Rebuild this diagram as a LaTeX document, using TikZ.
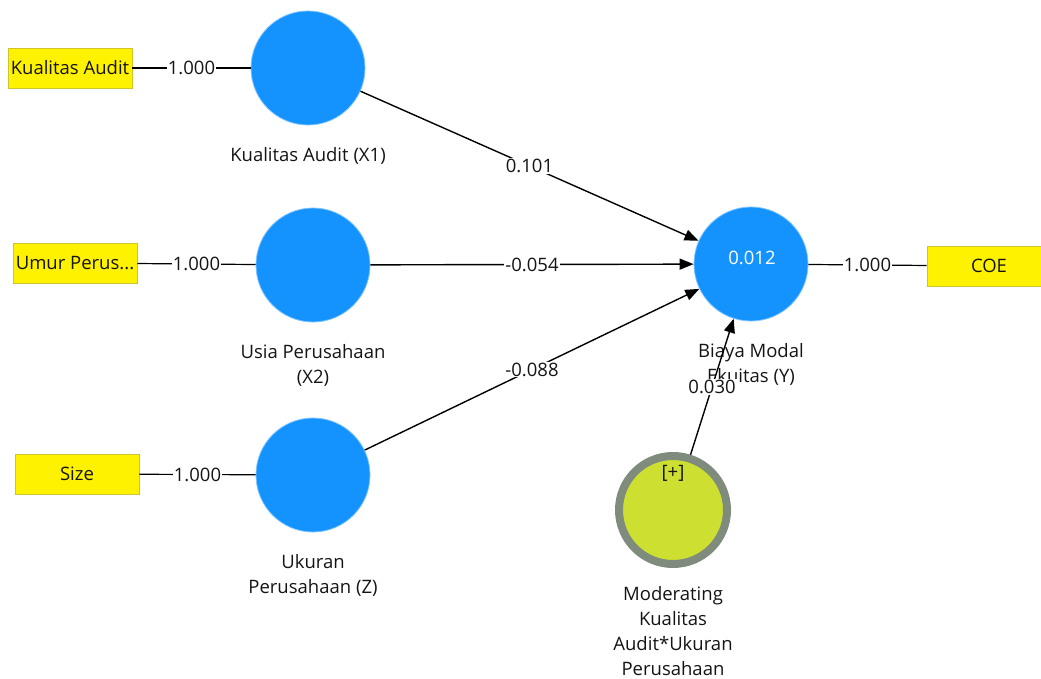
\documentclass[tikz,border=0pt]{standalone}
\usepackage{fontspec}
\setmainfont{Open Sans}
\usetikzlibrary{arrows.meta,positioning}
\definecolor{lvblue}{RGB}{20,147,255}
\definecolor{mvfill}{RGB}{205,224,50}
\definecolor{mvring}{RGB}{127,140,125}
\definecolor{txt}{RGB}{20,20,20}

\begin{document}
\begin{tikzpicture}[x=1pt,y=-1pt,
	every node/.style={font=\fontsize{18.5}{25}\selectfont,text=txt},
	latent/.style={circle,fill=lvblue,draw=lvblue!55!white,line width=0.8pt,minimum size=114pt,inner sep=0pt},
	indicator/.style={rectangle,fill=yellow,draw=yellow!78!black,line width=0.8pt,minimum width=124pt,minimum height=40pt,inner sep=0pt},
	moderator/.style={circle,fill=mvfill,draw=mvring,line width=8pt,minimum size=108pt,inner sep=0pt},
	caption/.style={align=center,inner sep=0pt},
	weight/.style={fill=white,inner sep=1pt},
	outer/.style={line width=1.2pt,draw=black},
	inner/.style={line width=1.4pt,draw=black,-{Triangle[length=14pt,width=11pt]}}]
	\useasboundingbox (0,0) rectangle (1041,679);
	\clip (0,0) rectangle (1041,679);

	% latent variables
	\node[latent] (x1) at (308,68) {};
	\node[latent] (x2) at (313,265) {};
	\node[latent] (z) at (313,475) {};
	\node[latent] (y) at (751,264) {};
	\node[moderator] (mod) at (673,510) {};
	\node[text=white] (r2) at (752,258) {0.012};
	\node (plus) at (673,473) {[+]};

	% names
	\node[caption,below=22pt of x1] (x1name) {Kualitas Audit (X1)};
	\node[caption,below=22pt of x2] (x2name) {Usia Perusahaan\\(X2)};
	\node[caption,below=22pt of z] (zname) {Ukuran\\Perusahaan (Z)};
	\node[caption,below=22pt of y] (yname) {Biaya Modal\\Ekuitas (Y)};
	\node[caption,below=18pt of mod] (modname) {Moderating\\Kualitas\\Audit*Ukuran\\Perusahaan};

	% indicators
	\node[indicator] (ka) at (70,68) {Kualitas Audit};
	\node[indicator] (up) at (75,263) {Umur Perus...};
	\node[indicator] (sz) at (77,474) {Size};
	\node[indicator] (coe) at (989,266) {COE};

	% outer loadings
	\draw[outer] (ka) -- node[weight]{1.000} (x1);
	\draw[outer] (up) -- node[weight]{1.000} (x2);
	\draw[outer] (sz) -- node[weight]{1.000} (z);
	\draw[outer] (y) -- node[weight]{1.000} (coe);

	% path coefficients
	\draw[inner] (x1) -- node[weight]{0.101} (y);
	\draw[inner] (x2) -- node[weight]{-0.054} (y);
	\draw[inner] (z) -- node[weight]{-0.088} (y);
	\draw[inner] (mod) -- node[weight]{0.030} (y);
\end{tikzpicture}
\end{document}
